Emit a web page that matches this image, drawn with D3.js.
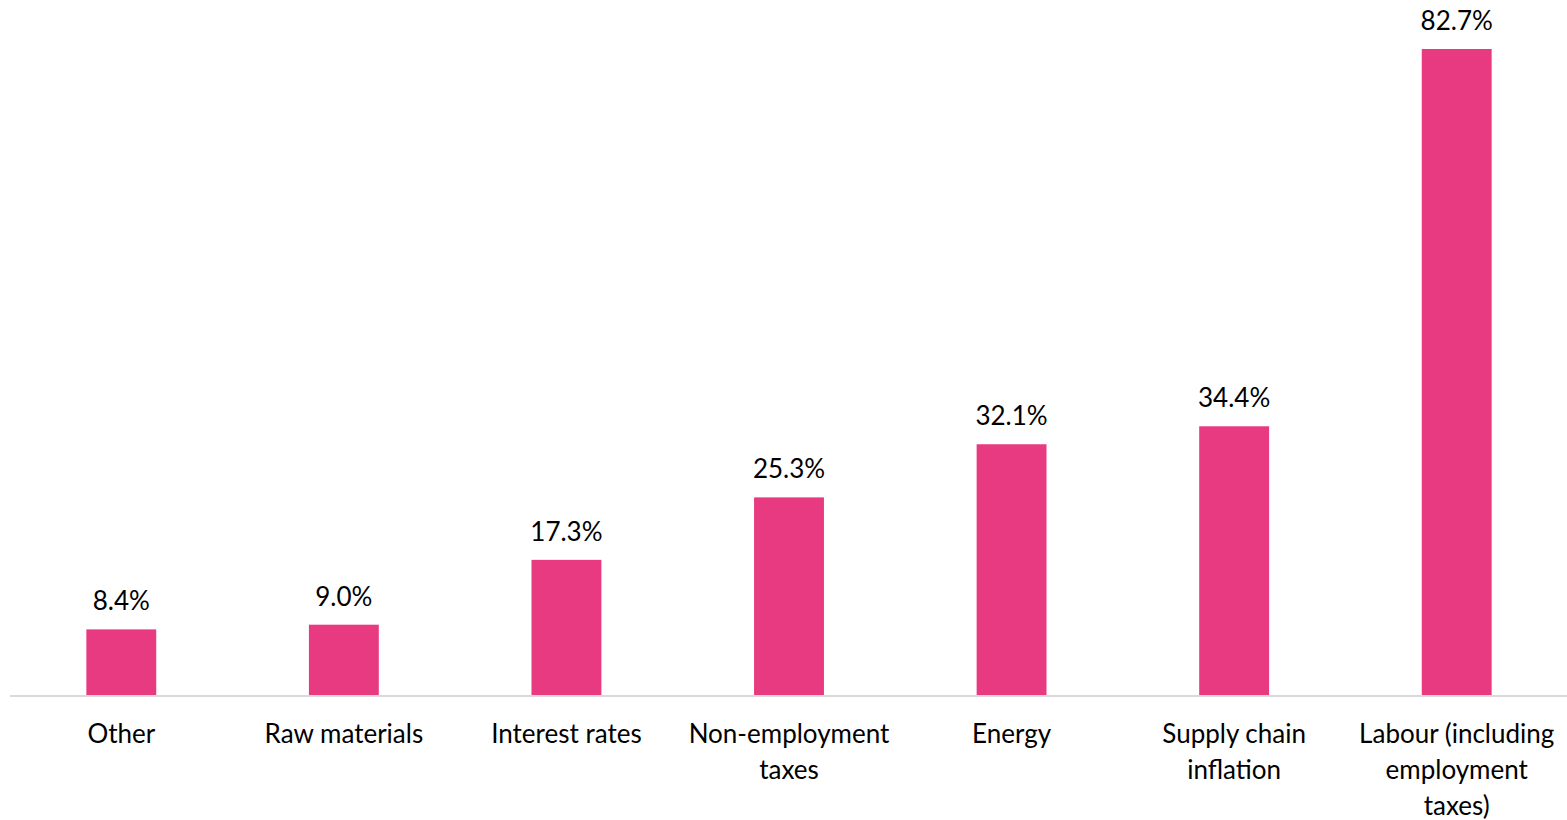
<!DOCTYPE html>
<html>
<head>
<meta charset="utf-8">
<script src="https://cdn.jsdelivr.net/npm/d3@7"></script>
<style>
  body { margin: 0; background: #fff; }
  text { font-family: Lato, "Open Sans", sans-serif; fill: #000; }
</style>
</head>
<body>
<script>
// data
let categories = ["Other", "Raw materials", "Interest rates", "Non-employment\ntaxes", "Energy", "Supply chain\ninflation", "Labour (including\nemployment\ntaxes)"]
let values = [8.4, 9.0, 17.3, 25.3, 32.1, 34.4, 82.7]

let width = 1567
let height = 820
let margin = {top: 49, right: 0, bottom: 125, left: 10}

let svg = d3.select("body")
    .append("svg")
    .attr("width", width)
    .attr("height", height)

let x = d3.scaleBand()
    .domain(categories)
    .range([margin.left, width + 1])
    .paddingInner(0.686)
    .paddingOuter(0.343)

let y = d3.scaleLinear()
    .domain([0, 82.7])
    .range([height - margin.bottom, margin.top])

//bars
svg.selectAll(".bar")
    .data(values)
    .enter()
    .append("rect")
    .attr("class", "bar")
    .attr("x", (d, i) => x(categories[i]))
    .attr("y", d => y(d))
    .attr("width", x.bandwidth())
    .attr("height", d => y(0) - y(d))
    .attr("fill", "#E83A80")

//baseline
svg.append("line")
    .attr("x1", margin.left)
    .attr("x2", width)
    .attr("y1", y(0) + 1)
    .attr("y2", y(0) + 1)
    .attr("stroke", "#D9D9D9")
    .attr("stroke-width", 2)

//value labels
svg.selectAll(".val")
    .data(values)
    .enter()
    .append("text")
    .attr("class", "val")
    .attr("x", (d, i) => x(categories[i]) + x.bandwidth() / 2)
    .attr("y", d => y(d) - 19)
    .attr("text-anchor", "middle")
    .style("font-size", "26px")
    .text(d => d.toFixed(1) + "%")

//category labels
let labels = svg.selectAll(".cat")
    .data(categories)
    .enter()
    .append("text")
    .attr("class", "cat")
    .attr("text-anchor", "middle")
    .style("font-size", "26px")
    .attr("transform", d => `translate(${x(d) + x.bandwidth() / 2}, ${y(0) + 48})`)

labels.selectAll("tspan")
    .data(d => d.split("\n"))
    .enter()
    .append("tspan")
    .attr("x", 0)
    .attr("y", (d, i) => i * 36)
    .text(d => d)
</script>
</body>
</html>
